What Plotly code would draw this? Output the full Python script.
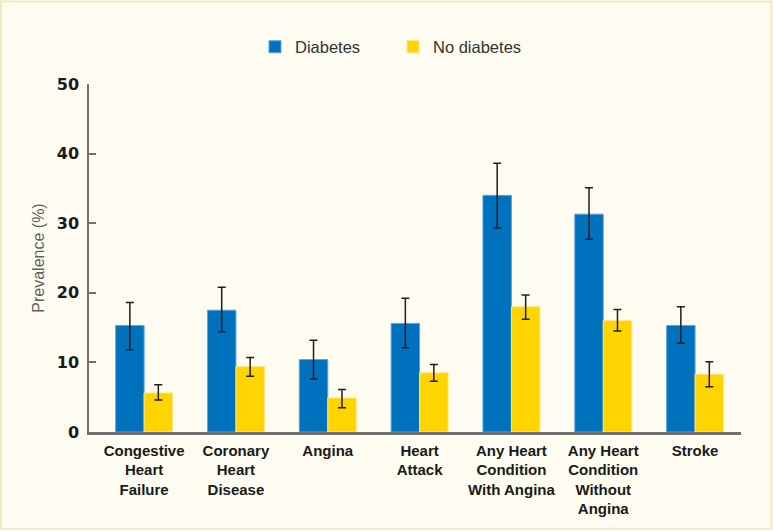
import plotly.graph_objects as go

categories = [
    "Congestive<br>Heart<br>Failure",
    "Coronary<br>Heart<br>Disease",
    "Angina",
    "Heart<br>Attack",
    "Any Heart<br>Condition<br>With Angina",
    "Any Heart<br>Condition<br>Without<br>Angina",
    "Stroke",
]
diabetes = [15.3, 17.5, 10.4, 15.6, 34.0, 31.3, 15.3]
diabetes_upper = [18.6, 20.8, 13.2, 19.2, 38.6, 35.1, 18.0]
diabetes_lower = [11.8, 14.4, 7.6, 12.1, 29.3, 27.7, 12.8]
no_diabetes = [5.6, 9.4, 4.9, 8.5, 18.0, 16.0, 8.3]
no_diabetes_upper = [6.8, 10.7, 6.1, 9.7, 19.7, 17.6, 10.1]
no_diabetes_lower = [4.6, 8.0, 3.5, 7.3, 16.2, 14.5, 6.5]
y_ticks = [0, 10, 20, 30, 40, 50]

x = list(range(len(categories)))

BLUE = "#0071BC"
YELLOW = "#FFD400"
BG = "#FEFCF0"

def err(vals, up, lo):
    return dict(
        type="data", symmetric=False,
        array=[u - v for u, v in zip(up, vals)],
        arrayminus=[v - l for v, l in zip(vals, lo)],
        color="#1e1e1e", thickness=1.5, width=4,
    )

fig = go.Figure()
fig.add_trace(go.Bar(
    x=x, y=diabetes, name="Diabetes",
    marker=dict(color=BLUE, line=dict(color="#5fa3d8", width=1)),
    error_y=err(diabetes, diabetes_upper, diabetes_lower),
))
fig.add_trace(go.Bar(
    x=x, y=no_diabetes, name="No diabetes",
    marker=dict(color=YELLOW, line=dict(color="#ffe680", width=1)),
    error_y=err(no_diabetes, no_diabetes_upper, no_diabetes_lower),
))

L, R, T, B = 89, 32, 84, 98.5
W, H = 773, 531
pw, ph = W - L - R, H - T - B

fig.update_layout(
    width=W, height=H,
    margin=dict(l=L, r=R, t=T, b=B, pad=0, autoexpand=False),
    paper_bgcolor=BG, plot_bgcolor=BG,
    barmode="group", bargap=0.38, bargroupgap=0,
    showlegend=True,
    legend=dict(
        orientation="h", x=(255 - L) / pw, xanchor="left",
        y=(H - B - 47) / ph, yanchor="middle",
        font=dict(family="Liberation Sans, Arial, sans-serif", size=16.5, color="#333333"),
        bgcolor="rgba(0,0,0,0)", itemwidth=30, tracegroupgap=0,
        entrywidth=93,
    ),
    xaxis=dict(
        range=[-0.6, 6.5], tickmode="array", tickvals=x, ticktext=categories,
        showline=True, linecolor="#707070", linewidth=2.5,
        ticks="", showgrid=False, zeroline=False, automargin=False,
        tickfont=dict(family="Liberation Sans, Arial, sans-serif", size=15, color="#1a1a1a", weight="bold"),
        ticklabelstandoff=3,
    ),
    yaxis=dict(
        range=[0, 50], tickmode="array", tickvals=y_ticks,
        showline=True, linecolor="#707070", linewidth=1.5,
        ticks="inside", ticklen=7, tickwidth=1.5, tickcolor="#707070",
        showgrid=False, zeroline=False, automargin=False,
        tickfont=dict(family="DejaVu Sans, sans-serif", size=16, color="#1a1a1a", weight="bold"),
        ticklabelstandoff=5,
        title=dict(text="Prevalence (%)", standoff=8,
                   font=dict(family="Liberation Sans, Arial, sans-serif", size=16, color="#606060")),
    ),
    shapes=[dict(
        type="rect", xref="paper", yref="paper",
        x0=(1 - L) / pw, x1=(W - 1.5 - L) / pw,
        y0=(H - B - (H - 1.5)) / ph, y1=(H - B - 1.5) / ph,
        line=dict(color="#F2EAC4", width=2), fillcolor="rgba(0,0,0,0)", layer="below",
    )],
)

fig.write_html(
    "out.html",
    config={"displayModeBar": False},
    post_script="document.body.style.margin='0';document.body.style.overflow='hidden';",
)
